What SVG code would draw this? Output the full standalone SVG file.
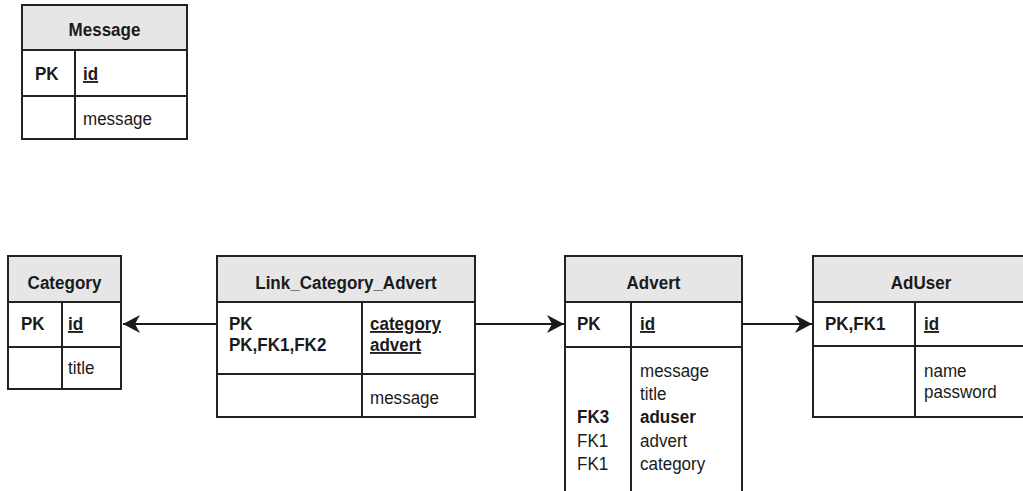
<svg xmlns="http://www.w3.org/2000/svg" width="1023" height="491" viewBox="0 0 1023 491">
<style>
.box{fill:#ffffff;stroke:#222;stroke-width:2}
.hdr{fill:#e6e6e6;stroke:#222;stroke-width:2}
.ln{stroke:#222;stroke-width:2;fill:none}
.t{font-family:"Liberation Sans",Arial,sans-serif;font-size:18.5px;fill:#1a1a1a;transform-box:fill-box;transform-origin:left center;transform:scaleX(0.92)}
.b{font-weight:bold}
.c{text-anchor:middle;transform-origin:center center}
.u{text-decoration:underline}
.conn{stroke:#1a1a1a;stroke-width:2;fill:none;marker-end:url(#arr)}
</style>
<defs>
<marker id="arr" markerUnits="userSpaceOnUse" markerWidth="20" markerHeight="20" viewBox="-18 -10 20 20" refX="0" refY="0" orient="auto">
<path d="M0,0 L-17,-9 L-12,0 L-17,9 Z" fill="#1a1a1a"/>
</marker>
</defs>

<g id="Message">
<rect class="box" x="22" y="5" width="165" height="134"/>
<rect class="hdr" x="22" y="5" width="165" height="45"/>
<line class="ln" x1="22" y1="96" x2="187" y2="96"/>
<line class="ln" x1="75" y1="50" x2="75" y2="139"/>
<text class="t b c" x="104.5" y="36">Message</text>
<text class="t b" x="35" y="80">PK</text>
<text class="t b u" x="83" y="80">id</text>
<text class="t" x="83" y="125">message</text>
</g>

<g id="Category">
<rect class="box" x="8" y="256" width="113" height="133"/>
<rect class="hdr" x="8" y="256" width="113" height="46"/>
<line class="ln" x1="8" y1="347" x2="121" y2="347"/>
<line class="ln" x1="62" y1="302" x2="62" y2="389"/>
<text class="t b c" x="64.5" y="289">Category</text>
<text class="t b" x="21" y="330">PK</text>
<text class="t b u" x="68" y="330">id</text>
<text class="t" x="68" y="374">title</text>
</g>

<g id="Link_Category_Advert">
<rect class="box" x="217" y="256" width="258" height="161"/>
<rect class="hdr" x="217" y="256" width="258" height="46"/>
<line class="ln" x1="217" y1="374" x2="475" y2="374"/>
<line class="ln" x1="362" y1="302" x2="362" y2="417"/>
<text class="t b c" x="346" y="289">Link_Category_Advert</text>
<text class="t b" x="229" y="330">PK</text>
<text class="t b" x="229" y="351">PK,FK1,FK2</text>
<text class="t b u" x="370" y="330">category</text>
<text class="t b u" x="370" y="351">advert</text>
<text class="t" x="370" y="404">message</text>
</g>

<g id="Advert">
<rect class="box" x="565" y="256" width="177" height="250"/>
<rect class="hdr" x="565" y="256" width="177" height="46"/>
<line class="ln" x1="565" y1="347" x2="742" y2="347"/>
<line class="ln" x1="631" y1="302" x2="631" y2="506"/>
<text class="t b c" x="653.5" y="289">Advert</text>
<text class="t b" x="577" y="330">PK</text>
<text class="t b u" x="640" y="330">id</text>
<text class="t" x="640" y="377">message</text>
<text class="t" x="640" y="400">title</text>
<text class="t b" x="577" y="423">FK3</text>
<text class="t b" x="640" y="423">aduser</text>
<text class="t" x="577" y="447">FK1</text>
<text class="t" x="640" y="447">advert</text>
<text class="t" x="577" y="470">FK1</text>
<text class="t" x="640" y="470">category</text>
</g>

<g id="AdUser">
<rect class="box" x="813" y="256" width="220" height="161"/>
<rect class="hdr" x="813" y="256" width="220" height="46"/>
<line class="ln" x1="813" y1="346" x2="1033" y2="346"/>
<line class="ln" x1="915" y1="302" x2="915" y2="417"/>
<text class="t b c" x="921" y="289">AdUser</text>
<text class="t b" x="825" y="330">PK,FK1</text>
<text class="t b u" x="924" y="330">id</text>
<text class="t" x="924" y="377">name</text>
<text class="t" x="924" y="398">password</text>
</g>

<g id="connectors">
<line class="conn" x1="217" y1="324" x2="123" y2="324"/>
<line class="conn" x1="475" y1="324" x2="564" y2="324"/>
<line class="conn" x1="742" y1="324" x2="812" y2="324"/>
</g>
</svg>
